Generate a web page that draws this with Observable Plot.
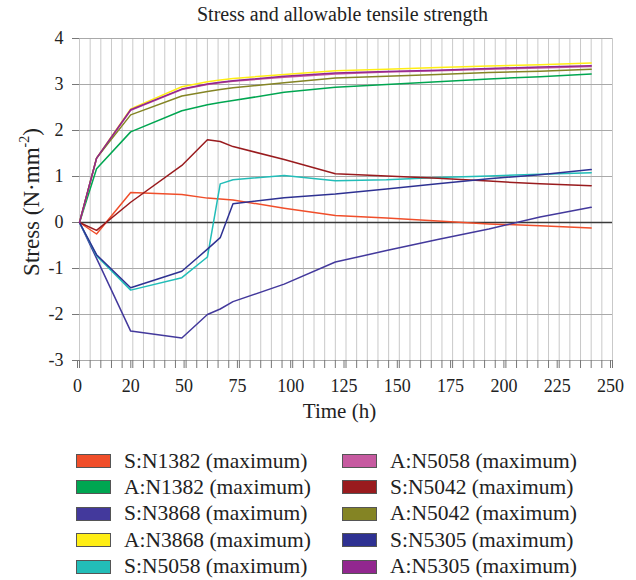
<!DOCTYPE html>
<html>
<head>
<meta charset="utf-8">
<script src="https://cdn.jsdelivr.net/npm/d3@7"></script>
<script src="https://cdn.jsdelivr.net/npm/@observablehq/plot@0.6"></script>
<style>
  body { margin: 0; background: #fff; font-family: "Liberation Serif", "Times New Roman", serif; color: #222; }
  #wrap { position: relative; width: 636px; height: 580px; }
  #title { position: absolute; left: 76px; width: 533px; top: 3px; text-align: center; font-size: 20px; }
  #ylab { position: absolute; left: -95px; top: 188px; width: 240px; height: 28px; line-height: 28px; text-align: center; font-size: 23px; transform: rotate(-90deg); }
  #xlab { position: absolute; left: 73px; width: 533px; top: 399px; text-align: center; font-size: 21px; }
  #legend { position: absolute; left: 0; top: 448px; width: 636px; }
  .item { position: absolute; display: flex; align-items: center; font-size: 21.5px; height: 26px; white-space: nowrap; }
  .sw { width: 33px; height: 12px; border: 1px solid #555; margin-right: 13px; }
  svg text { font-family: "Liberation Serif", "Times New Roman", serif; }
</style>
</head>
<body>
<div id="wrap">
  <div id="chart"></div>
  <div id="title">Stress and allowable tensile strength</div>
  <div id="ylab">Stress (N·mm<sup style="font-size:14px;vertical-align:10px">-2</sup>)</div>
  <div id="xlab">Time (h)</div>
  <div id="legend"></div>
</div>
<script>
const times = [0, 8, 24, 48, 60, 66, 72, 96, 120, 144, 168, 192, 216, 240];

const seriesNames = [
  "S:N1382 (maximum)", "A:N1382 (maximum)", "S:N3868 (maximum)", "A:N3868 (maximum)",
  "S:N5058 (maximum)", "A:N5058 (maximum)", "S:N5042 (maximum)", "A:N5042 (maximum)",
  "S:N5305 (maximum)", "A:N5305 (maximum)"
];
const seriesColors = [
  "#F04E2A", "#00A651", "#43399C", "#FFEE14",
  "#22BDB8", "#C65AA0", "#991B1E", "#848424",
  "#2E3192", "#92278F"
];

const sN1382 = [0, -0.25, 0.65, 0.61, 0.53, 0.51, 0.49, 0.31, 0.15, 0.10, 0.03, -0.03, -0.07, -0.12];
const aN1382 = [0, 1.17, 1.97, 2.43, 2.56, 2.61, 2.65, 2.83, 2.94, 3.00, 3.06, 3.12, 3.17, 3.23];
const sN3868 = [0, -0.78, -2.36, -2.51, -2.00, -1.88, -1.72, -1.34, -0.86, -0.61, -0.37, -0.14, 0.12, 0.33];
const aN3868 = [0, 1.40, 2.47, 2.95, 3.06, 3.10, 3.13, 3.22, 3.30, 3.33, 3.37, 3.40, 3.43, 3.47];
const sN5058 = [0, -0.72, -1.47, -1.20, -0.75, 0.84, 0.93, 1.02, 0.91, 0.93, 0.98, 1.01, 1.05, 1.08];
const aN5058 = [0, 1.39, 2.44, 2.89, 3.00, 3.04, 3.07, 3.16, 3.23, 3.27, 3.30, 3.33, 3.36, 3.39];
const sN5042 = [0, -0.17, 0.44, 1.24, 1.80, 1.76, 1.65, 1.37, 1.06, 1.01, 0.96, 0.90, 0.84, 0.80];
const aN5042 = [0, 1.40, 2.34, 2.75, 2.85, 2.89, 2.93, 3.04, 3.14, 3.18, 3.22, 3.26, 3.29, 3.33];
const sN5305 = [0, -0.70, -1.42, -1.06, -0.58, -0.33, 0.41, 0.54, 0.62, 0.73, 0.84, 0.95, 1.04, 1.15];
const aN5305 = [0, 1.40, 2.45, 2.90, 3.01, 3.05, 3.08, 3.18, 3.25, 3.28, 3.31, 3.35, 3.38, 3.41];

const xTickValues = [0, 25, 50, 75, 100, 125, 150, 175, 200, 225, 250];
const xTickLabels = ["0", "20", "50", "75", "100", "125", "150", "175", "200", "225", "250"];
const yTickValues = [-3, -2, -1, 0, 1, 2, 3, 4];

const seriesValues = [sN1382, aN1382, sN3868, aN3868, sN5058, aN5058, sN5042, aN5042, sN5305, aN5305];
const data = seriesNames.flatMap((name, i) => times.map((t, j) => ({series: name, t, v: seriesValues[i][j]})));
const minorX = d3.range(0, 251, 5);

const chart = Plot.plot({
  width: 636,
  height: 430,
  marginLeft: 79,
  marginRight: 24,
  marginTop: 38,
  marginBottom: 70,
  style: {fontFamily: "'Liberation Serif', 'Times New Roman', serif", fontSize: "17px", color: "#222", background: "#fff"},
  x: {domain: [0, 250]},
  y: {domain: [-3, 4]},
  color: {domain: seriesNames, range: seriesColors},
  marks: [
    Plot.ruleX(minorX, {stroke: "#c9c9c9", strokeWidth: 1, y1: -3, y2: 4}),
    Plot.ruleY(yTickValues, {stroke: "#a9a9a9", strokeWidth: 1}),
    Plot.ruleY([0], {stroke: "#3a3a3a", strokeWidth: 1.6}),
    Plot.axisX({ticks: minorX, tickSize: 8, tickFormat: () => "", stroke: "#777", label: null}),
    Plot.axisX({ticks: xTickValues, tickSize: 8, tickPadding: 11, dx: -2,
      tickFormat: (d) => xTickLabels[xTickValues.indexOf(d)], stroke: "#777", fill: "#222", fontSize: 18, label: null}),
    Plot.axisY({ticks: yTickValues, tickSize: 7, tickPadding: 9, tickFormat: (d) => String(d),
      stroke: "#777", fill: "#222", fontSize: 18, label: null}),
    Plot.line(data, {x: "t", y: "v", z: "series", stroke: "series", strokeWidth: 1.5})
  ]
});
document.getElementById("chart").append(chart);

const legend = document.getElementById("legend");
seriesNames.forEach((name, i) => {
  const col = i < 5 ? 0 : 1;
  const row = i % 5;
  const item = document.createElement("div");
  item.className = "item";
  item.style.left = (col === 0 ? 76 : 342) + "px";
  item.style.top = (row * 26.4) + "px";
  const sw = document.createElement("div");
  sw.className = "sw";
  sw.style.background = seriesColors[i];
  const label = document.createElement("span");
  label.textContent = name;
  item.append(sw, label);
  legend.append(item);
});
</script>
</body>
</html>
